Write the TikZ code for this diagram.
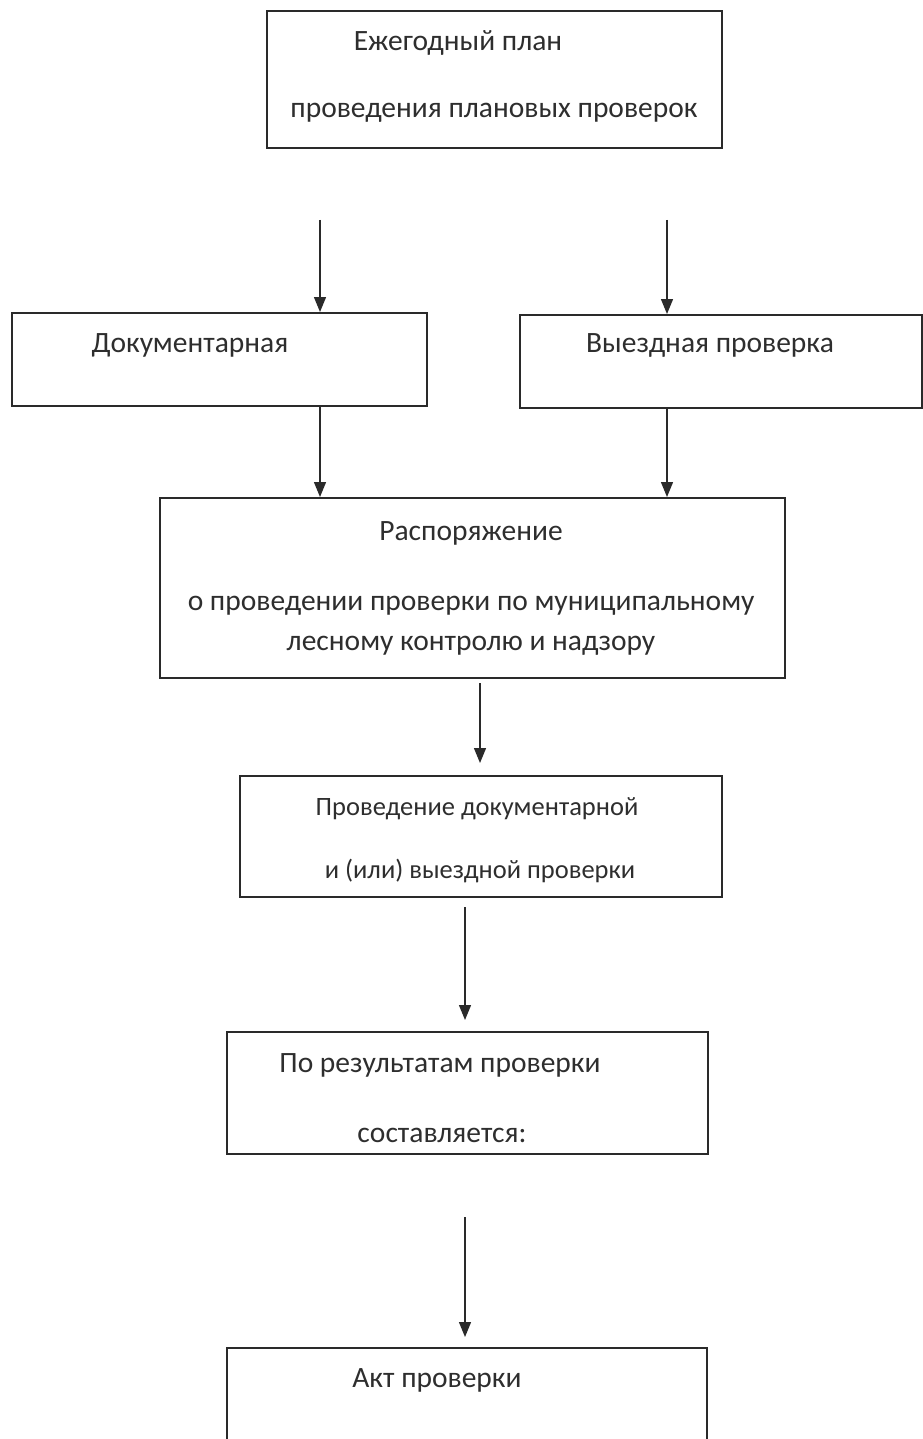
\documentclass[tikz,border=0pt]{standalone}
\usepackage{fontspec}
\setmainfont{Carlito}
\usetikzlibrary{arrows.meta}
\definecolor{ink}{HTML}{2A2A2A}
\definecolor{txt}{HTML}{2E2E2E}
\tikzset{
  box/.style={draw=ink, line width=1.6pt, rectangle, inner sep=0pt, anchor=north west},
  lbl/.style={text=txt, anchor=base, inner sep=0pt, font=\fontsize{29.5}{32}\selectfont},
  lblsm/.style={lbl, font=\fontsize{26.5}{29}\selectfont},
  arr/.style={draw=ink, line width=1.3pt, -{Triangle[width=12pt,length=15pt]}},
}
\begin{document}
\begin{tikzpicture}[x=1pt,y=-1pt]
\useasboundingbox[fill=white] (0,0) rectangle (922,1439);
% boxes
\node[box, minimum width=455pt, minimum height=137pt] (plan) at (266,10) {};
\node[box, minimum width=415pt, minimum height=93pt] (doc) at (11,312) {};
\node[box, minimum width=402pt, minimum height=93pt] (vyezd) at (519,314) {};
\node[box, minimum width=625pt, minimum height=180pt] (rasp) at (159,497) {};
\node[box, minimum width=482pt, minimum height=121pt] (prov) at (239,775) {};
\node[box, minimum width=481pt, minimum height=122pt] (res) at (226,1031) {};
\node[box, minimum width=480pt, minimum height=110pt] (akt) at (226,1347) {};
% texts
\node[lbl] (t1) at (458,51) {Ежегодный план};
\node[lbl] (t2) at (494,118) {проведения плановых проверок};
\node[lbl] (t3) at (190,352) {Документарная};
\node[lbl] (t4) at (710,352) {Выездная проверка};
\node[lbl] (t5) at (471,540) {Распоряжение};
\node[lbl] (t6) at (471,610) {о проведении проверки по муниципальному};
\node[lbl] (t7) at (471,650) {лесному контролю и надзору};
\node[lblsm] (t8) at (477,815) {Проведение документарной};
\node[lblsm] (t9) at (480,878) {и (или) выездной проверки};
\node[lbl] (t10) at (440,1072) {По результатам проверки};
\node[lbl] (t11) at (442,1142) {составляется:};
\node[lbl] (t12) at (437,1387) {Акт проверки};
% arrow start points
\coordinate (s1) at (320,220);
\coordinate (s2) at (667,220);
\coordinate (s3) at (480,683);
\coordinate (s4) at (465,907);
\coordinate (s5) at (465,1217);
% connectors
\draw[arr] (s1) -- (s1 |- doc.north);
\draw[arr] (s2) -- (s2 |- vyezd.north);
\draw[arr] (s1 |- doc.south) -- (s1 |- rasp.north);
\draw[arr] (s2 |- vyezd.south) -- (s2 |- rasp.north);
\draw[arr, shorten >=12pt] (s3) -- (s3 |- prov.north);
\draw[arr, shorten >=11pt] (s4) -- (s4 |- res.north);
\draw[arr, shorten >=10pt] (s5) -- (s5 |- akt.north);
\end{tikzpicture}
\end{document}
